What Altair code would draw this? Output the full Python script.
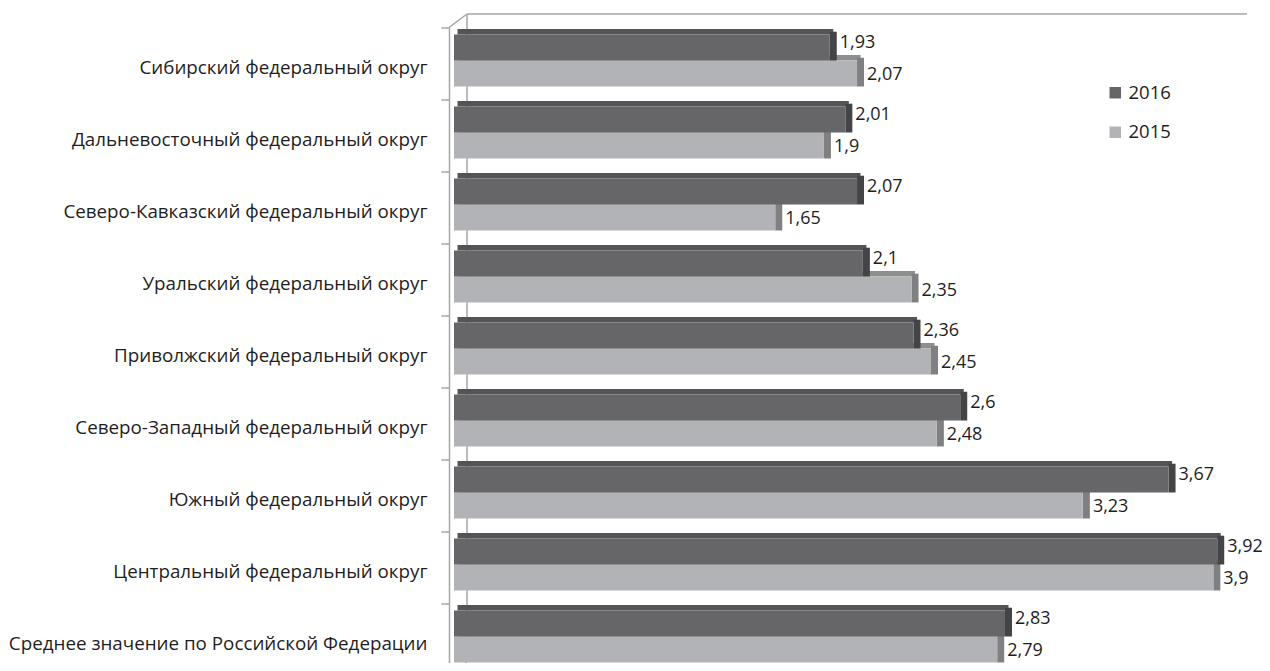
import altair as alt
import pandas as pd

categories = [
    "Сибирский федеральный округ",
    "Дальневосточный федеральный округ",
    "Северо-Кавказский федеральный округ",
    "Уральский федеральный округ",
    "Приволжский федеральный округ",
    "Северо-Западный федеральный округ",
    "Южный федеральный округ",
    "Центральный федеральный округ",
    "Среднее значение по Российской Федерации",
]
values_2016 = [1.93, 2.01, 2.07, 2.1, 2.36, 2.6, 3.67, 3.92, 2.83]
values_2015 = [2.07, 1.9, 1.65, 2.35, 2.45, 2.48, 3.23, 3.9, 2.79]
years = ["2016", "2015"]

rows = []
for cat, v16, v15 in zip(categories, values_2016, values_2015):
    for yr, v in (("2016", v16), ("2015", v15)):
        rows.append({"cat": cat, "year": yr, "value": v,
                     "label": str(v).replace(".", ",")})
df = pd.DataFrame(rows)

FONT = "Open Sans"
PX_PER_UNIT = 194.7
W = 790
H = 635
STEP = 72
RANGE_H = STEP * len(categories)
XMAX = W / PX_PER_UNIT

DARK = {"front": "#666668", "top": "#545456", "side": "#444446"}
LIGHT = {"front": "#b2b3b7", "top": "#8e8e8e", "side": "#808082"}
LINE = "#a6a6a6"
TEXT = "#1e1e1e"

BAR = 26
DEPTH_X = 7
DEPTH_Y = 5.5
OFF = {"2016": -16, "2015": 10}
TEXT_OFF = {"2016": -21, "2015": 11}

x_enc = alt.X("value:Q", scale=alt.Scale(domain=[0, XMAX], nice=False, zero=True), axis=None)
y_enc = alt.Y(
    "cat:N",
    sort=categories,
    scale=alt.Scale(range=[0, RANGE_H], paddingInner=0, paddingOuter=0),
    axis=alt.Axis(
        title=None, offset=5, domainColor=LINE, domainWidth=1.5,
        tickColor=LINE, tickWidth=1.5, tickSize=8, tickBand="extent",
        labelPadding=14, labelFont=FONT, labelFontSize=18.8, labelColor=TEXT,
        labelOffset=4, labelLimit=600, grid=False,
    ),
)
color_enc = alt.Color(
    "year:N",
    scale=alt.Scale(domain=years, range=[DARK["front"], LIGHT["front"]]),
    legend=alt.Legend(
        title=None, orient="none", legendX=652, legendY=56, direction="vertical",
        symbolType="square", symbolSize=132, symbolStrokeWidth=0,
        labelFont=FONT, labelFontSize=18.5, labelColor=TEXT,
        rowPadding=20.5, padding=0, labelOffset=4,
    ),
)

base = alt.Chart(df)


def series_layers(yr, pal):
    c = OFF[yr]
    f = base.transform_filter(alt.datum.year == yr)
    top_face = f.mark_bar(
        size=DEPTH_Y, yOffset=c - BAR / 2 - DEPTH_Y / 2,
        xOffset=DEPTH_X / 2, x2Offset=DEPTH_X / 2, color=pal["top"],
    ).encode(x=x_enc, x2=alt.X2(datum=0), y=y_enc)
    side_face = f.mark_bar(
        size=BAR + DEPTH_Y / 2, yOffset=c - 1.4,
        x2Offset=DEPTH_X, color=pal["side"],
    ).encode(x=x_enc, x2=alt.X2("value"), y=y_enc)
    front = f.mark_bar(size=BAR, yOffset=c).encode(x=x_enc, y=y_enc, color=color_enc)
    text = f.mark_text(
        align="left", baseline="middle", dx=10, yOffset=TEXT_OFF[yr],
        font=FONT, fontSize=18, color=TEXT,
    ).encode(x=x_enc, y=y_enc, text="label:N")
    return [top_face, side_face, front, text]


deco = alt.Chart(alt.Data(values=[{}]))
back_top = deco.mark_rule(color=LINE, strokeWidth=1.5).encode(
    x=alt.value(13), x2=alt.value(793), y=alt.value(-13.5))
back_left = deco.mark_rule(color=LINE, strokeWidth=1.5).encode(
    x=alt.value(13), y=alt.value(-13.5), y2=alt.value(RANGE_H - 13.5))
diag_top = deco.mark_rule(color=LINE, strokeWidth=1.5).encode(
    x=alt.value(-5), y=alt.value(0), x2=alt.value(13), y2=alt.value(-13.5))
diag_bot = deco.mark_rule(color=LINE, strokeWidth=1.5).encode(
    x=alt.value(-5), y=alt.value(RANGE_H), x2=alt.value(13), y2=alt.value(RANGE_H - 13.5))

light = series_layers("2015", LIGHT)
dark = series_layers("2016", DARK)

chart = alt.layer(
    back_top, back_left, diag_top, diag_bot,
    light[0], light[1], light[2],
    dark[0], dark[1], dark[2],
    light[3], dark[3],
).properties(
    width=W, height=H,
    autosize=alt.AutoSizeParams(type="none"),
    padding={"left": 446, "top": 19.5, "right": 18, "bottom": 0},
).configure_view(stroke=None)

chart.save("out.html", embed_options={"renderer": "svg", "actions": False})
